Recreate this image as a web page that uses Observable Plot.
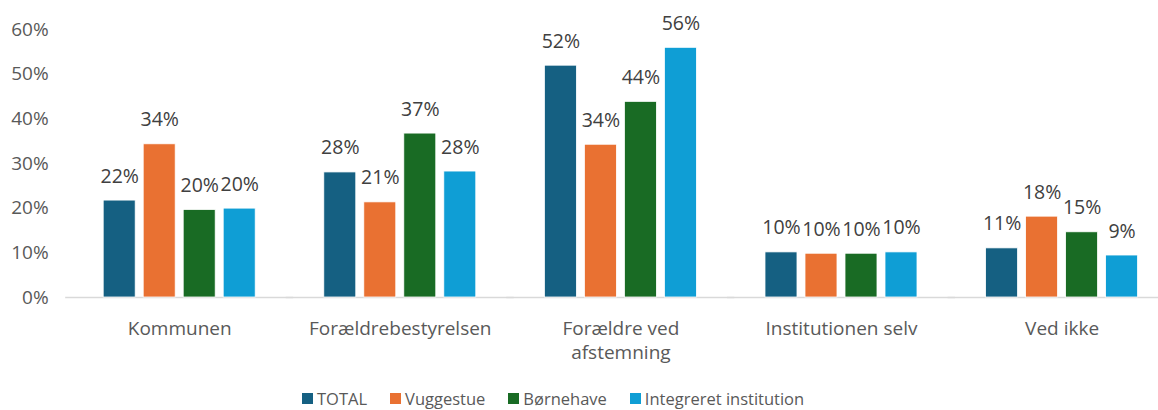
<!DOCTYPE html>
<html>
<head>
<meta charset="utf-8">
<script src="https://cdn.jsdelivr.net/npm/d3@7"></script>
<script src="https://cdn.jsdelivr.net/npm/@observablehq/plot@0.6"></script>
<style>
  html, body { margin: 0; padding: 0; background: #fff; }
  #wrap { position: relative; width: 1158px; height: 410px; font-family: "Open Sans", sans-serif; color: #595959; overflow: hidden; }
  #legend { position: absolute; left: 302px; top: 387px; display: flex; gap: 23px; font-size: 16.5px; line-height: 23px; }
  .item { display: flex; align-items: center; gap: 4px; white-space: nowrap; }
  .sw { width: 11px; height: 11px; display: inline-block; }
</style>
</head>
<body>
<div id="wrap"><div id="chart"></div><div id="legend"></div></div>
<script>
const categories = ["Kommunen", "Forældrebestyrelsen", "Forældre ved afstemning", "Institutionen selv", "Ved ikke"];
const categoryLabels = ["Kommunen", "Forældrebestyrelsen", "Forældre ved\nafstemning", "Institutionen selv", "Ved ikke"];
const seriesNames = ["TOTAL", "Vuggestue", "Børnehave", "Integreret institution"];
const seriesColors = ["#156082", "#E97132", "#196B24", "#0F9ED5"];
const totalValues = [0.217, 0.280, 0.519, 0.101, 0.110];
const vuggestueValues = [0.343, 0.213, 0.342, 0.098, 0.181];
const bornehaveValues = [0.196, 0.367, 0.438, 0.098, 0.146];
const integreretValues = [0.199, 0.282, 0.559, 0.101, 0.094];
const yTicks = [0, 0.1, 0.2, 0.3, 0.4, 0.5, 0.6];

const seriesValues = [totalValues, vuggestueValues, bornehaveValues, integreretValues];
const data = [];
categories.forEach((c, i) => {
  seriesNames.forEach((s, j) => {
    data.push({category: c, series: s, value: seriesValues[j][i]});
  });
});
const labelOf = new Map(categories.map((c, i) => [c, categoryLabels[i]]));
const pct = d3.format(".0%");

const chart = Plot.plot({
  width: 1158,
  height: 370,
  marginLeft: 70,
  marginRight: 0,
  marginTop: 29,
  marginBottom: 73,
  style: {fontFamily: "Open Sans, sans-serif", fontSize: "19px", color: "#595959", background: "#fff", overflow: "hidden"},
  fx: {domain: categories, paddingInner: 0.2384, paddingOuter: 0.0852, align: 0.67, round: false, label: null},
  x: {domain: seriesNames, padding: 0.2, round: false, axis: null},
  y: {domain: [0, 0.6], label: null},
  color: {domain: seriesNames, range: seriesColors},
  marks: [
    Plot.axisY({ticks: yTicks, tickFormat: pct, tickSize: 0, tickPadding: 47, fontSize: 19, label: null}),
    Plot.axisFx({anchor: "bottom", tickSize: 0, tickPadding: 20, fontSize: 19, lineHeight: 1.29, tickFormat: d => labelOf.get(d), label: null}),
    Plot.ruleY([0], {stroke: "#d9d9d9", strokeWidth: 1.5, insetLeft: -30, insetRight: -30}),
    Plot.barY(data, {fx: "category", x: "series", y: "value", fill: "series", stroke: "#fff", strokeWidth: 0.8}),
    Plot.text(data, {fx: "category", x: "series", y: "value", text: d => pct(d.value), lineAnchor: "bottom", dy: -18, fill: "#404040", fontSize: 19.5})
  ]
});
document.getElementById("chart").appendChild(chart);

const legend = document.getElementById("legend");
seriesNames.forEach((s, i) => {
  const item = document.createElement("div");
  item.className = "item";
  const sw = document.createElement("span");
  sw.className = "sw";
  sw.style.background = seriesColors[i];
  const t = document.createElement("span");
  t.textContent = s;
  item.appendChild(sw);
  item.appendChild(t);
  legend.appendChild(item);
});
</script>
</body>
</html>
